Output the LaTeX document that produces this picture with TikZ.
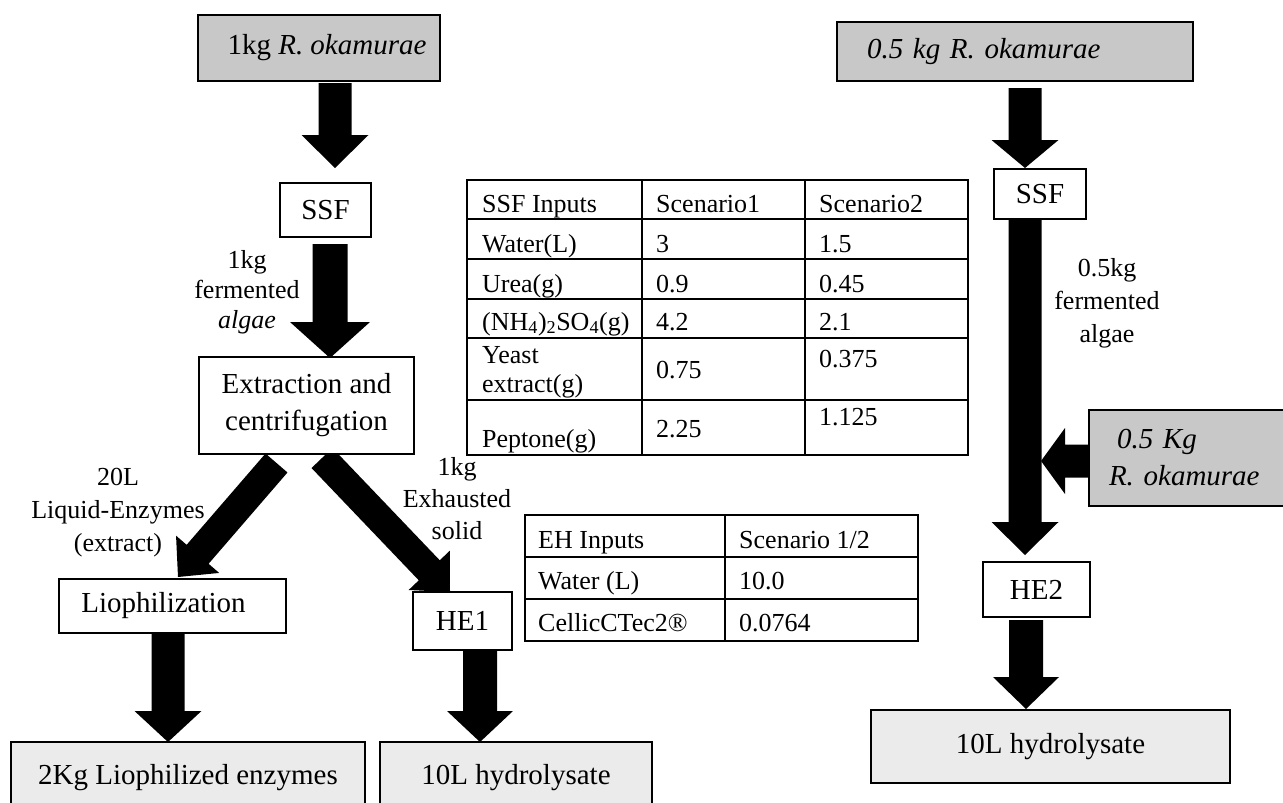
\documentclass[tikz,border=0pt]{standalone}
\usepackage{fontspec}
\setmainfont{Liberation Serif}
\usetikzlibrary{calc}
\definecolor{ingray}{RGB}{200,200,200}
\definecolor{outgray}{RGB}{235,235,235}
\newcommand{\blockarrow}[5]{%
  \coordinate (bah) at ($(#2)!#5!(#1)$);
  \fill[black] ($(#1)!#3!90:(#2)$) -- ($(bah)!#3!90:(#2)$) -- ($(bah)!#4!90:(#2)$) -- (#2)
    -- ($(bah)!#4!-90:(#2)$) -- ($(bah)!#3!-90:(#2)$) -- ($(#1)!#3!-90:(#2)$) -- cycle;
}
\begin{document}
\begin{tikzpicture}[x=1pt,y=-1pt,
  bigtxt/.style={font=\fontsize{29}{36}\selectfont},
  procbox/.style={draw=black, line width=1.5pt, fill=white, inner sep=0pt, bigtxt},
  inbox/.style={procbox, fill=ingray},
  outbox/.style={procbox, fill=outgray},
  lbl/.style={align=center, inner sep=0pt},
  cell/.style={font=\fontsize{26}{31}\selectfont, anchor=base west, inner sep=0pt},
  gridline/.style={line width=1.5pt},
]
\useasboundingbox (0,0) rectangle (1283,803);
\clip (0,0) rectangle (1283,803);

% ---------- arrows ----------
\coordinate (a1s) at (335,83);   \coordinate (a1e) at (335,168);
\coordinate (a2s) at (330,244);  \coordinate (a2e) at (330,358);
\coordinate (a3s) at (276.5,463);\coordinate (a3e) at (178,577);
\coordinate (a4s) at (322,458);  \coordinate (a4e) at (450,592);
\coordinate (a5s) at (168,633);  \coordinate (a5e) at (168,742);
\coordinate (a6s) at (480,650);  \coordinate (a6e) at (480,742);
\coordinate (a7s) at (1025,88);  \coordinate (a7e) at (1025,168);
\coordinate (a8s) at (1025,219); \coordinate (a8e) at (1025,555);
\coordinate (a9s) at (1090,461); \coordinate (a9e) at (1041,461);
\coordinate (a10s) at (1026,620);\coordinate (a10e) at (1026,709);
\blockarrow{a1s}{a1e}{16.5pt}{33.5pt}{33pt}
\blockarrow{a2s}{a2e}{17.5pt}{40pt}{36pt}
\blockarrow{a3s}{a3e}{14.5pt}{28.5pt}{30pt}
\blockarrow{a4s}{a4e}{14.5pt}{28.5pt}{30pt}
\blockarrow{a5s}{a5e}{16.5pt}{33.5pt}{31pt}
\blockarrow{a6s}{a6e}{17pt}{33pt}{31pt}
\blockarrow{a7s}{a7e}{16.5pt}{33.5pt}{28pt}
\blockarrow{a8s}{a8e}{16.5pt}{33.5pt}{33pt}
\blockarrow{a9s}{a9e}{16.5pt}{33pt}{24pt}
\blockarrow{a10s}{a10e}{17pt}{33pt}{32pt}

% ---------- left chain ----------
\node[inbox, minimum width=242pt, minimum height=66pt] (top1) at (319,48) {\hspace*{16pt}1kg \textit{R. okamurae}};
\node[procbox, minimum width=91pt, minimum height=54pt] (ssf1) at (325.5,210) {SSF};
\node[procbox, minimum width=215pt, minimum height=97pt, align=center, font=\fontsize{29}{37}\selectfont] (ext) at (306.5,405.5) {Extraction and\\centrifugation};
\node[procbox, minimum width=227pt, minimum height=54pt] (lio) at (172.5,606) {Liophilization\hspace*{18pt}};
\node[procbox, minimum width=99pt, minimum height=58pt] (he1) at (462.5,621) {HE1};
\node[outbox, minimum width=354pt, minimum height=72pt] (enz) at (188,778) {\raisebox{3pt}{2Kg Liophilized enzymes}};
\node[outbox, minimum width=272pt, minimum height=72pt] (hyd1) at (516,778) {\raisebox{3pt}{10L hydrolysate}};

\node[lbl, font=\fontsize{26}{30}\selectfont] (l1) at (247,292) {1kg\\fermented\\\textit{algae}};
\node[lbl, font=\fontsize{26}{33}\selectfont] (l2) at (118,513) {20L\\Liquid-Enzymes\\(extract)};
\node[lbl, font=\fontsize{26}{32}\selectfont] (l3) at (457,499) {1kg\\Exhausted\\solid};

% ---------- right chain ----------
\node[inbox, minimum width=356pt, minimum height=59pt, text width=296pt, align=left] (top2) at (1015,51.5) {\textit{0.5 kg R. okamurae}};
\node[procbox, minimum width=92pt, minimum height=50pt] (ssf2) at (1040,194) {SSF};
\node[inbox, minimum width=211pt, minimum height=96pt, text width=171pt, align=left, font=\fontsize{29}{37}\selectfont] (side) at (1194.5,458) {\hspace*{8pt}\textit{0.5 Kg}\\\textit{R. okamurae}};
\node[procbox, minimum width=107pt, minimum height=55pt] (he2) at (1036.5,589.5) {HE2};
\node[outbox, minimum width=359pt, minimum height=73pt] (hyd2) at (1050.5,746.5) {10L hydrolysate};
\node[lbl, font=\fontsize{26}{33}\selectfont] (l4) at (1107,303) {0.5kg\\fermented\\algae};

% ---------- SSF table ----------
\draw[gridline] (467,180) rectangle (968,455);
\draw[gridline] (642,180) -- (642,455);
\draw[gridline] (805,180) -- (805,455);
\foreach \yy in {219,259,299,338,400} \draw[gridline] (467,\yy) -- (968,\yy);
\node[cell] (t11) at (482,212) {SSF Inputs};
\node[cell] (t12) at (656,212) {Scenario1};
\node[cell] (t13) at (819,212) {Scenario2};
\node[cell] (t21) at (482,252) {Water(L)};
\node[cell] (t22) at (656,252) {3};
\node[cell] (t23) at (819,252) {1.5};
\node[cell] (t31) at (482,292) {Urea(g)};
\node[cell] (t32) at (656,292) {0.9};
\node[cell] (t33) at (819,292) {0.45};
\node[cell] (t41) at (482,330) {(NH\textsubscript{4})\textsubscript{2}SO\textsubscript{4}(g)};
\node[cell] (t42) at (656,330) {4.2};
\node[cell] (t43) at (819,330) {2.1};
\node[cell] (t51) at (482,363) {Yeast};
\node[cell] (t51b) at (482,392) {extract(g)};
\node[cell] (t52) at (656,378) {0.75};
\node[cell] (t53) at (819,367) {0.375};
\node[cell] (t61) at (482,447) {Peptone(g)};
\node[cell] (t62) at (656,437) {2.25};
\node[cell] (t63) at (819,425) {1.125};

% ---------- EH table ----------
\draw[gridline] (525,515) rectangle (918,641);
\draw[gridline] (725,515) -- (725,641);
\draw[gridline] (525,557) -- (918,557);
\draw[gridline] (525,599) -- (918,599);
\node[cell] (e11) at (538,548) {EH Inputs};
\node[cell] (e12) at (739,548) {Scenario 1/2};
\node[cell] (e21) at (538,589) {Water (L)};
\node[cell] (e22) at (739,589) {10.0};
\node[cell] (e31) at (538,631) {CellicCTec2®};
\node[cell] (e32) at (739,631) {0.0764};
\end{tikzpicture}
\end{document}
